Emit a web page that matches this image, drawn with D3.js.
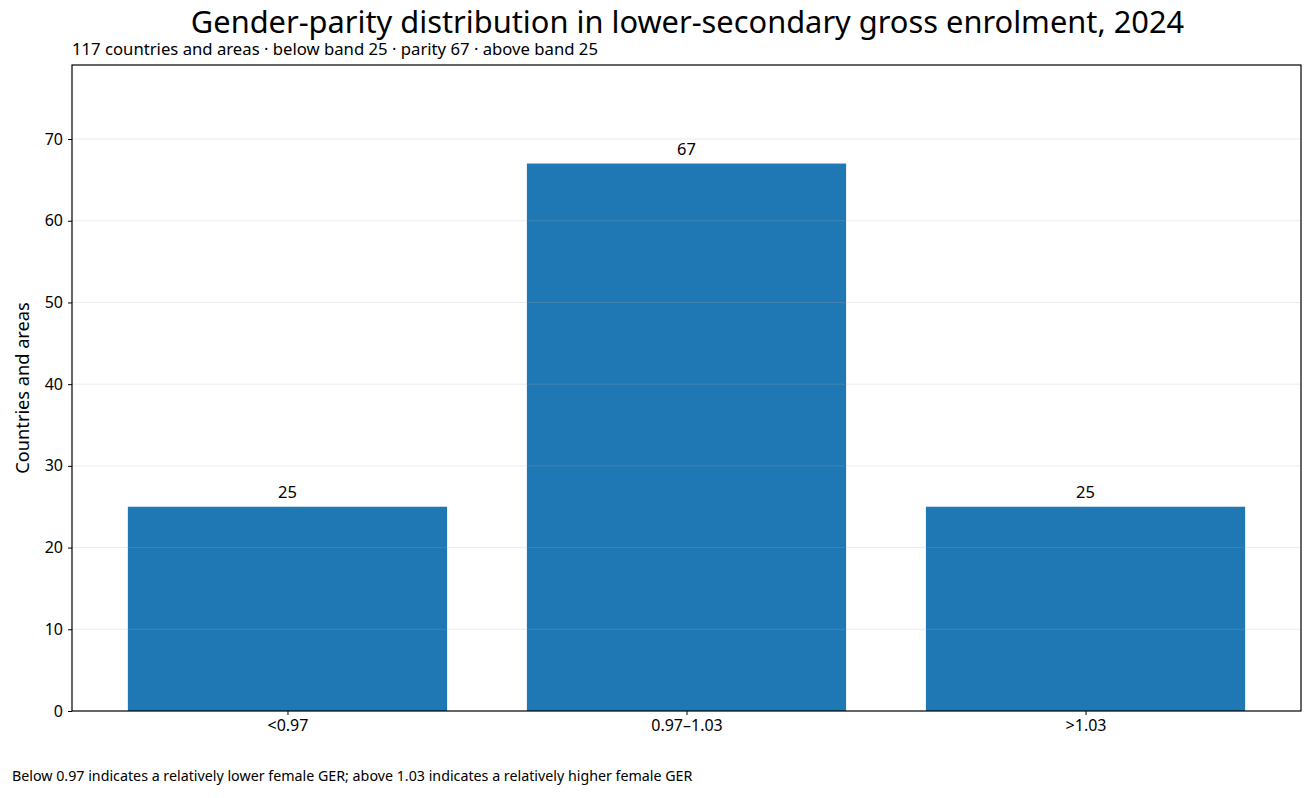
<!DOCTYPE html>
<html>
<head>
<meta charset="utf-8">
<script src="https://cdn.jsdelivr.net/npm/d3@7"></script>
<style>
  body { margin: 0; background: #fff; }
  text { font-family: "Noto Sans", sans-serif; fill: #000; }
</style>
</head>
<body>
<div id="chart"></div>
<script>
var categories = ["<0.97", "0.97\u20131.03", ">1.03"];
var counts = [25, 67, 25];
var yTicks = [0, 10, 20, 30, 40, 50, 60, 70];

var W = 1312, H = 798;
var plotLeft = 72, plotRight = 1301, plotTop = 65, plotBottom = 711;

var svg = d3.select("#chart").append("svg")
  .attr("width", W).attr("height", H);

var x = d3.scaleLinear().domain([-0.54, 2.54]).range([plotLeft, plotRight]);
var y = d3.scaleLinear().domain([0, 79.06]).range([plotBottom, plotTop]);

// bars
svg.append("g").selectAll("rect")
  .data(counts)
  .enter().append("rect")
  .attr("x", function(d, i) { return x(i - 0.4); })
  .attr("width", function(d, i) { return x(i + 0.4) - x(i - 0.4); })
  .attr("y", function(d) { return y(d); })
  .attr("height", function(d) { return y(0) - y(d); })
  .attr("fill", "#1f77b4");

// grid on top, faint
svg.append("g").selectAll("line")
  .data(yTicks.slice(1))
  .enter().append("line")
  .attr("x1", plotLeft).attr("x2", plotRight)
  .attr("y1", function(d) { return y(d); })
  .attr("y2", function(d) { return y(d); })
  .attr("stroke", "#b0b0b0").attr("stroke-opacity", 0.3).attr("stroke-width", 0.8);

// value labels
svg.append("g").selectAll("text")
  .data(counts)
  .enter().append("text")
  .attr("x", function(d, i) { return x(i); })
  .attr("y", function(d) { return y(d) - 8.5; })
  .attr("text-anchor", "middle")
  .attr("font-size", 16.5)
  .text(function(d) { return d; });

// axes
var yAxis = svg.append("g")
  .attr("transform", "translate(" + plotLeft + ",0)")
  .call(d3.axisLeft(y).tickValues(yTicks).tickSize(4).tickPadding(5));
var xAxis = svg.append("g")
  .attr("transform", "translate(0," + plotBottom + ")")
  .call(d3.axisBottom(x).tickValues([0, 1, 2]).tickSize(4).tickPadding(5)
    .tickFormat(function(d) { return categories[d]; }));

[xAxis, yAxis].forEach(function(a) {
  a.select(".domain").remove();
  a.selectAll("text").attr("font-size", 16).attr("font-family", "Noto Sans, sans-serif");
  a.selectAll("line").attr("stroke", "#000");
});

// frame
svg.append("rect")
  .attr("x", plotLeft).attr("y", plotTop)
  .attr("width", plotRight - plotLeft).attr("height", plotBottom - plotTop)
  .attr("fill", "none").attr("stroke", "#000").attr("stroke-width", 1.2);

// titles
svg.append("text")
  .attr("x", (plotLeft + plotRight) / 2 + 1).attr("y", 33)
  .attr("text-anchor", "middle")
  .attr("font-size", 30.8)
  .text("Gender-parity distribution in lower-secondary gross enrolment, 2024");

svg.append("text")
  .attr("x", plotLeft).attr("y", 55)
  .attr("font-size", 16.7)
  .text("117 countries and areas \u00b7 below band 25 \u00b7 parity 67 \u00b7 above band 25");

svg.append("text")
  .attr("transform", "translate(29," + ((plotTop + plotBottom) / 2) + ") rotate(-90)")
  .attr("text-anchor", "middle")
  .attr("font-size", 18.2)
  .text("Countries and areas");

svg.append("text")
  .attr("x", 12).attr("y", 781)
  .attr("font-size", 14.25)
  .text("Below 0.97 indicates a relatively lower female GER; above 1.03 indicates a relatively higher female GER");
</script>
</body>
</html>
